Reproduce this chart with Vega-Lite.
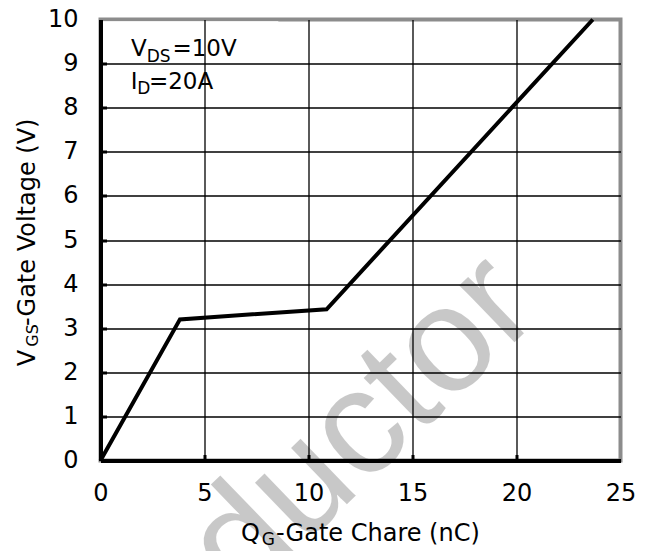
{
  "$schema": "https://vega.github.io/schema/vega-lite/v6.json",
  "width": 520,
  "height": 441,
  "autosize": {"type": "none"},
  "padding": {"left": 100.5, "top": 19.5, "right": 34.5, "bottom": 90.5},
  "background": "white",
  "config": {
    "view": {"stroke": "#8c8c8c", "strokeWidth": 4},
    "font": "DejaVu Sans"
  },
  "datasets": {
    "curve": [
      {"q": 0, "v": 0},
      {"q": 3.82, "v": 3.2},
      {"q": 10.87, "v": 3.43},
      {"q": 23.67, "v": 10}
    ],
    "watermark": [{"q": 14.06, "v": 0.02, "t": "ductor"}],
    "box": [{"q": 0.12, "q2": 8.55, "v": 8.06, "v2": 9.96}],
    "noteMain": [
      {"q": 1.47, "v": 9.17, "t": "V"},
      {"q": 3.46, "v": 9.17, "t": "=10V"},
      {"q": 1.45, "v": 8.43, "t": "I"},
      {"q": 2.33, "v": 8.43, "t": "=20A"}
    ],
    "noteSub": [
      {"q": 2.22, "v": 9.034, "t": "DS"},
      {"q": 1.77, "v": 8.32, "t": "D"}
    ],
    "xTitleMain": [
      {"q": 6.75, "v": -1.834, "t": "Q"},
      {"q": 8.44, "v": -1.834, "t": "-Gate Chare (nC)"}
    ],
    "xTitleSub": [{"q": 7.75, "v": -1.92, "t": "G"}],
    "yTitleMain": [
      {"q": -3.15, "v": 2.14, "t": "V"},
      {"q": -3.15, "v": 3.05, "t": "-Gate Voltage (V)"}
    ],
    "yTitleSub": [{"q": -3.0, "v": 2.58, "t": "GS"}]
  },
  "encoding": {
    "x": {
      "field": "q",
      "type": "quantitative",
      "scale": {"domain": [0, 25], "nice": false, "zero": false},
      "axis": {
        "title": null,
        "values": [0, 5, 10, 15, 20, 25],
        "grid": true,
        "gridColor": {"condition": {"test": "datum.value == 25", "value": null}, "value": "black"},
        "gridWidth": 1.3,
        "gridOpacity": 1,
        "domainColor": "black",
        "domainWidth": 4,
        "tickColor": {"condition": {"test": "datum.value == 0 || datum.value == 25", "value": null}, "value": "black"},
        "tickWidth": 3,
        "tickSize": -6,
        "labelFont": "DejaVu Sans",
        "labelFontSize": 24,
        "labelColor": "black",
        "labelPadding": 27,
        "labelFlush": false,
        "labelOverlap": false,
        "zindex": 1
      }
    },
    "y": {
      "field": "v",
      "type": "quantitative",
      "scale": {"domain": [0, 10], "nice": false, "zero": false},
      "axis": {
        "title": null,
        "values": [0, 1, 2, 3, 4, 5, 6, 7, 8, 9, 10],
        "grid": true,
        "gridColor": {"condition": {"test": "datum.value == 10", "value": null}, "value": "black"},
        "gridWidth": 1.3,
        "gridOpacity": 1,
        "domainColor": "black",
        "domainWidth": 4,
        "tickColor": {"condition": {"test": "datum.value == 0 || datum.value == 10", "value": null}, "value": "black"},
        "tickWidth": 3,
        "tickSize": -6,
        "labelFont": "DejaVu Sans",
        "labelFontSize": 24,
        "labelColor": "black",
        "labelPadding": 28.5,
        "labelFlush": false,
        "labelOverlap": false,
        "zindex": 1
      }
    }
  },
  "layer": [
    {
      "data": {"name": "watermark"},
      "mark": {"type": "text", "font": "Liberation Sans", "fontSize": 150, "angle": -44, "align": "center", "baseline": "alphabetic", "fill": "black", "opacity": 0.21},
      "encoding": {"text": {"field": "t"}}
    },
    {
      "data": {"name": "box"},
      "mark": {"type": "rect", "fill": "white", "stroke": null},
      "encoding": {"x2": {"field": "q2"}, "y2": {"field": "v2"}}
    },
    {
      "data": {"name": "curve"},
      "mark": {"type": "line", "color": "black", "strokeWidth": 4, "strokeJoin": "miter"},
      "encoding": {}
    },
    {
      "data": {"name": "noteMain"},
      "mark": {"type": "text", "fontSize": 23, "align": "left", "baseline": "alphabetic", "fill": "black"},
      "encoding": {"text": {"field": "t"}}
    },
    {
      "data": {"name": "noteSub"},
      "mark": {"type": "text", "fontSize": 17, "align": "left", "baseline": "alphabetic", "fill": "black"},
      "encoding": {"text": {"field": "t"}}
    },
    {
      "data": {"name": "xTitleMain"},
      "mark": {"type": "text", "fontSize": 24, "align": "left", "baseline": "alphabetic", "fill": "black"},
      "encoding": {"text": {"field": "t"}}
    },
    {
      "data": {"name": "xTitleSub"},
      "mark": {"type": "text", "fontSize": 17, "align": "left", "baseline": "alphabetic", "fill": "black"},
      "encoding": {"text": {"field": "t"}}
    },
    {
      "data": {"name": "yTitleMain"},
      "mark": {"type": "text", "fontSize": 24, "angle": -90, "align": "left", "baseline": "alphabetic", "fill": "black"},
      "encoding": {"text": {"field": "t"}}
    },
    {
      "data": {"name": "yTitleSub"},
      "mark": {"type": "text", "fontSize": 16, "angle": -90, "align": "left", "baseline": "alphabetic", "fill": "black"},
      "encoding": {"text": {"field": "t"}}
    }
  ]
}
